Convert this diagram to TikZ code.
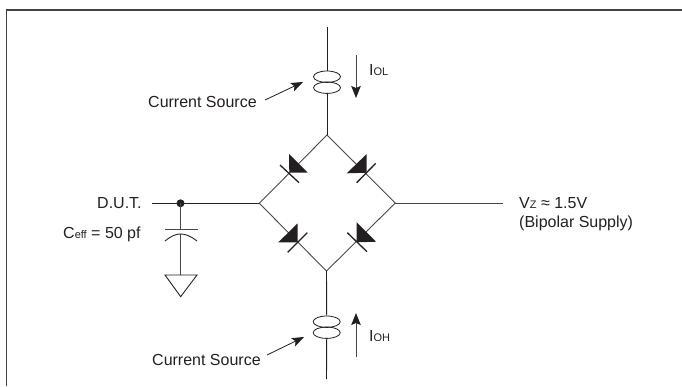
\documentclass[tikz,border=0pt]{standalone}
\usepackage{fontspec}
\setmainfont{Liberation Sans}
\usetikzlibrary{arrows.meta,shapes.geometric}
\definecolor{ink}{HTML}{231F20}
\definecolor{soft}{HTML}{4A4748}
\newcommand{\subs}[1]{{\fontsize{11}{12}\selectfont #1}}
\tikzset{
  wire/.style={draw=ink,line width=0.9pt},
  thin wire/.style={draw=soft,line width=0.9pt},
  lbl/.style={inner sep=0pt,anchor=base west,text=ink,font=\fontsize{16}{19}\selectfont},
  srcring/.style={ellipse,draw=ink,line width=0.8pt,minimum width=27pt,minimum height=11.4pt,inner sep=0pt},
  flow/.style={draw=soft,line width=0.9pt,-{Stealth[length=12pt,width=9.5pt,inset=2pt,color=ink]}},
  pointer/.style={draw=ink,line width=0.8pt,-{Stealth[length=12pt,width=9pt,inset=2.5pt,color=ink]}},
  bar/.style={draw=ink,line width=1.3pt},
  diode/.style={fill=ink,draw=none}
}
\begin{document}
\begin{tikzpicture}[x=1pt,y=-1pt]
\useasboundingbox (0,0) rectangle (682,386);
% frame
\coordinate (fBL) at (6.5,386);
\coordinate (fTL) at (6.5,10);
\coordinate (fTR) at (682,10);
\draw[ink!85!white,line width=1.5pt] (fBL) -- (fTL) -- (fTR);
% bridge corners
\coordinate (top) at (327,135);
\coordinate (left) at (259.3,203.3);
\coordinate (right) at (395.3,203);
\coordinate (bot) at (326.5,271);
\draw[thin wire] (top) -- (left) -- (bot) -- (right) -- cycle;
% diodes
\coordinate (dTL) at (289.3,172.7);
\coordinate (dTR) at (366.7,172.7);
\coordinate (dBL) at (297.7,242.3);
\coordinate (dBR) at (356.7,242.3);
\fill[diode] (dTL) -- (289,154) -- (307.7,172.7) -- cycle;
\draw[bar] (280,165) -- (299,182.7);
\fill[diode] (dTR) -- (366.7,154) -- (346.7,173.3) -- cycle;
\draw[bar] (356.7,182.7) -- (375.7,163.3);
\fill[diode] (dBL) -- (297.7,223.3) -- (278.3,242.3) -- cycle;
\draw[bar] (287.7,252.3) -- (307.3,232.7);
\fill[diode] (dBR) -- (356.7,222.3) -- (376,241.7) -- cycle;
\draw[bar] (347.3,232.7) -- (367,251.7);
% upper current source
\coordinate (ttop) at (327,27);
\node[srcring] (r1) at (327,76.7) {};
\node[srcring] (r2) at (327,87.7) {};
\draw[wire] (ttop) -- (r1.north);
\draw[wire] (r2.south) -- (top);
\coordinate (a1s) at (356,55);
\coordinate (a1e) at (356,98);
\draw[flow] (a1s) -- (a1e);
\node[lbl] (iol) at (369,75) {I\subs{OL}};
\node[lbl] (cs1) at (148,107) {Current Source};
\coordinate (p1s) at (265,100);
\coordinate (p1e) at (303,82);
\draw[pointer] (p1s) -- (p1e);
% lower current source
\coordinate (bbot) at (326.5,379);
\node[srcring] (r3) at (326.7,321.7) {};
\node[srcring] (r4) at (326.7,332.7) {};
\draw[wire] (bot) -- (r3.north);
\draw[wire] (r4.south) -- (bbot);
\coordinate (a2s) at (356,357);
\coordinate (a2e) at (356,313);
\draw[flow] (a2s) -- (a2e);
\node[lbl] (ioh) at (369,341) {I\subs{OH}};
\node[lbl] (cs2) at (152,365) {Current Source};
\coordinate (p2s) at (267,355);
\coordinate (p2e) at (304,337);
\draw[pointer] (p2s) -- (p2e);
% left side
\node[lbl] (dut) at (97,208) {D.U.T.};
\coordinate (lw) at (151.5,203.3);
\coordinate (dot) at (180.5,203.3);
\draw[wire] (lw) -- (left);
\fill[ink] (dot) circle (4pt);
\coordinate (pl1a) at (165,229);
\coordinate (pl1b) at (198,229);
\coordinate (pl1) at (180.5,229);
\draw[thin wire] (dot) -- (pl1);
\draw[thin wire] (pl1a) -- (pl1b);
\coordinate (pl2) at (180.5,234);
\draw[wire] (165,241) .. controls (172,235.5) and (176,234) .. (pl2) .. controls (185,234) and (190,235.5) .. (197,241);
\coordinate (gt) at (180.5,275);
\draw[thin wire] (pl2) -- (gt);
\draw[wire,line join=miter] (165,275) -- (197,275) -- (180.7,296.7) -- cycle;
\node[lbl] (ceff) at (63,238) {C\subs{eff} = 50 pf};
% right side
\coordinate (rw) at (502.7,203);
\draw[thin wire] (right) -- (rw);
\node[lbl] (vz) at (519,208) {V\subs{Z} ≈ 1.5V};
\node[lbl] (bs) at (519,227) {(Bipolar Supply)};
\end{tikzpicture}
\end{document}
